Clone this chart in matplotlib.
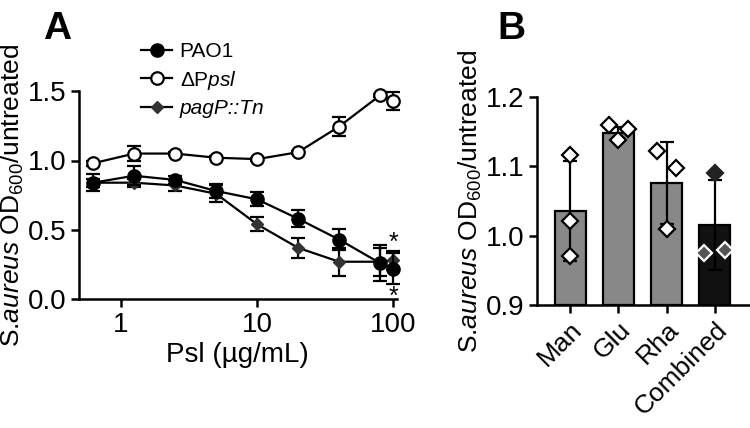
import numpy as np
import matplotlib
matplotlib.use("Agg")
import matplotlib.pyplot as plt
from matplotlib.lines import Line2D

plt.rcParams['font.family'] = ['Liberation Sans', 'DejaVu Sans']
plt.rcParams['mathtext.fontset'] = 'custom'
plt.rcParams['mathtext.rm'] = 'Liberation Sans'
plt.rcParams['mathtext.it'] = 'Liberation Sans:italic'
plt.rcParams['mathtext.bf'] = 'Liberation Sans:bold'

# panel A data
psl = [0.625, 1.25, 2.5, 5, 10, 20, 40, 80, 100]
pao1 = [0.84, 0.89, 0.86, 0.78, 0.72, 0.58, 0.43, 0.26, 0.22]
pao1_err = [0.06, 0.07, 0.03, 0.05, 0.05, 0.06, 0.075, 0.13, 0.11]
dppsl = [0.98, 1.05, 1.05, 1.02, 1.01, 1.06, 1.245, 1.47, 1.43]
dppsl_err = [0.02, 0.055, 0.01, 0.01, 0.01, 0.01, 0.07, 0.01, 0.065]
pagp = [0.84, 0.84, 0.82, 0.76, 0.54, 0.37, 0.27, 0.27, 0.28]
pagp_err = [0.03, 0.03, 0.04, 0.06, 0.05, 0.07, 0.1, 0.1, 0.07]

# panel B data
sugars = ['Man', 'Glu', 'Rha', 'Combined']
sugar_mean = [1.035, 1.148, 1.076, 1.015]
sugar_err = [0.072, 0.008, 0.059, 0.065]
sugar_pts = [[1.116, 1.021, 0.971], [1.159, 1.153, 1.138],
             [1.122, 1.098, 1.009], [1.090, 0.975, 0.980]]
pt_offsets = [[0, 0, 0], [-0.2, 0.2, 0], [-0.2, 0.2, 0], [0, -0.22, 0.22]]

fig = plt.figure(figsize=(7.5, 4.28), dpi=100)
axA = fig.add_axes([0.105, 0.301, 0.424, 0.486])
axB = fig.add_axes([0.716, 0.287, 0.282, 0.487])

ylab = r'S.$\mathit{aureus}$ OD$_{600}$/untreated'
lw = 1.8
fs = 20

for ax in (axA, axB):
    for s in ('top', 'right'):
        ax.spines[s].set_visible(False)
    for s in ('left', 'bottom'):
        ax.spines[s].set_linewidth(lw)
    ax.tick_params(width=lw, length=6, labelsize=fs, direction='out', pad=3)

# panel A
ekw = dict(capsize=5, elinewidth=1.6, capthick=1.6, lw=1.6, color='black',
           clip_on=False)
axA.errorbar(psl, dppsl, yerr=dppsl_err, marker='o', ms=9, mfc='white',
             mec='black', mew=1.6, zorder=3, **ekw)
axA.errorbar(psl, pagp, yerr=pagp_err, marker='D', ms=6.5, mfc='#333333',
             mec='#333333', zorder=3, **ekw)
axA.errorbar(psl, pao1, yerr=pao1_err, marker='o', ms=9.5, mfc='black',
             mec='black', zorder=4, **ekw)
axA.set_xscale('log')
axA.set_xlim(0.49, 106)
axA.set_ylim(0, 1.5)
axA.set_xticks([1, 10, 100])
axA.set_xticklabels(['1', '10', '100'])
axA.minorticks_off()
axA.set_yticks([0, 0.5, 1.0, 1.5])
axA.set_yticklabels(['0.0', '0.5', '1.0', '1.5'])
axA.set_xlabel('Psl (µg/mL)', fontsize=fs, labelpad=3)
axA.set_ylabel(ylab, fontsize=19, labelpad=1)
axA.text(101, 0.405, '*', fontsize=18, ha='center', va='center')
axA.text(101, 0.02, '*', fontsize=18, ha='center', va='center')

handles = [
    Line2D([], [], color='black', lw=1.6, marker='o', ms=9.5, mfc='black'),
    Line2D([], [], color='black', lw=1.6, marker='o', ms=9, mfc='white', mew=1.6),
    Line2D([], [], color='black', lw=1.6, marker='D', ms=6.5, mfc='#333333',
           mec='#333333'),
]
labels = ['PAO1', r'$\Delta$P$\mathit{psl}$', 'pagP::Tn']
leg = fig.legend(handles, labels, loc='upper left', bbox_to_anchor=(0.163, 0.945),
                 frameon=False, fontsize=15, handlelength=1.5,
                 handletextpad=0.35, labelspacing=0.35)
leg.get_texts()[2].set_fontstyle('italic')
fig.text(0.057, 0.975, 'A', fontsize=28, fontweight='bold', va='top')

# panel B
xb = np.arange(len(sugars))
axB.bar(xb, [m - 0.9 for m in sugar_mean], bottom=0.9, width=0.65,
        color=['#888888', '#888888', '#888888', '#111111'],
        edgecolor='black', linewidth=1.6, zorder=2)
axB.errorbar(xb, sugar_mean, yerr=sugar_err, fmt='none', ecolor='black',
             elinewidth=1.6, capsize=5, capthick=1.6, zorder=3)
for i in range(len(sugars)):
    for j, v in enumerate(sugar_pts[i]):
        if i == 3 and j == 0:
            fc, ec = '#222222', '#222222'
        elif i == 3:
            fc, ec = '#555555', 'white'
        else:
            fc, ec = 'white', 'black'
        axB.plot(xb[i] + pt_offsets[i][j], v, marker='D', ms=8, mfc=fc,
                 mec=ec, mew=1.6, ls='none', zorder=4)
axB.set_ylim(0.9, 1.2)
axB.set_xlim(-0.69, 3.7)
axB.set_yticks([0.9, 1.0, 1.1, 1.2])
axB.set_yticklabels(['0.9', '1.0', '1.1', '1.2'])
axB.set_xticks(xb)
axB.set_xticklabels(sugars, rotation=45, ha='right', rotation_mode='anchor',
                    fontsize=19)
axB.set_ylabel(ylab, fontsize=19, labelpad=1)
fig.text(0.663, 0.975, 'B', fontsize=28, fontweight='bold', va='top')

fig.savefig('out.png', dpi=100)
